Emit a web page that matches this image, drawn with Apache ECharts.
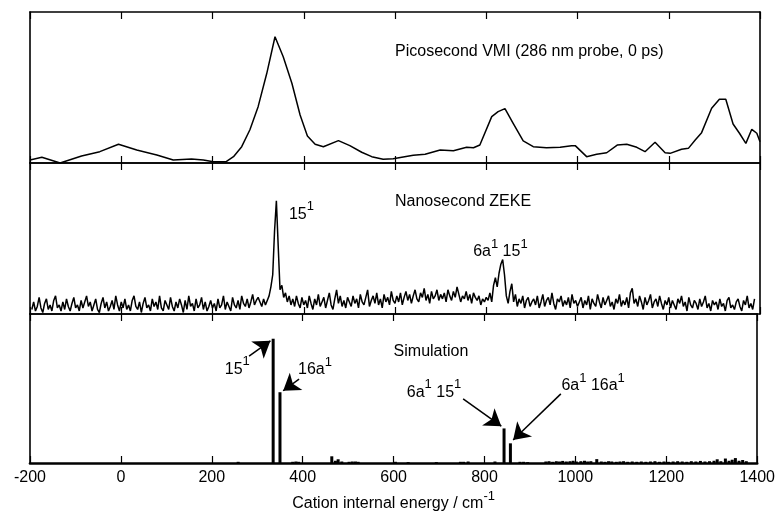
<!DOCTYPE html>
<html>
<head>
<meta charset="utf-8">
<script src="https://cdn.jsdelivr.net/npm/echarts/dist/echarts.min.js"></script>
<style>
  html, body { margin: 0; padding: 0; background: #fff; }
  #chart { width: 778px; height: 513px; }
</style>
</head>
<body>
<div id="chart"></div>
<script>
// Shared energy axis (cm^-1)
const energyMin = -200;
const energyMax = 1400;
const energyInterval = 200;

// Picosecond VMI photoelectron spectrum (relative intensity)
const vmiEnergy = [-200,-174,-134,-87,-47,-6,34,78,114,154,180,202,230,246,264,282,300,319,337,355,374,392,408,425,443,476,501,527,549,574,596,640,666,699,728,757,772,786,812,826,841,859,881,903,932,962,987,995,1020,1042,1064,1087,1108,1130,1148,1170,1192,1203,1228,1243,1258,1272,1294,1311,1325,1341,1355,1369,1382,1393,1400];
const vmiSignal = [0.02,0.038,0,0.046,0.075,0.124,0.086,0.053,0.02,0.026,0.02,0.009,0.009,0.042,0.108,0.22,0.373,0.594,0.836,0.704,0.528,0.318,0.179,0.124,0.108,0.148,0.115,0.071,0.042,0.025,0.028,0.051,0.058,0.086,0.081,0.104,0.101,0.119,0.307,0.34,0.36,0.263,0.146,0.108,0.101,0.104,0.115,0.115,0.042,0.058,0.068,0.119,0.124,0.104,0.075,0.137,0.068,0.064,0.091,0.097,0.152,0.201,0.362,0.422,0.422,0.258,0.197,0.13,0.223,0.197,0.141];

// Nanosecond ZEKE scan: sampled every 4 cm^-1 from -196 cm^-1, one row per 100 cm^-1
// (intensity in % of panel height)
const zekeStart = -196;
const zekeStep = 4;
const zekeSignal = [
  3,8,2,5,11,4,1,7,10,3,6,2,9,12,4,6,2,8,3,10,5,2,7,11,4,
  6,2,9,4,3,12,5,8,2,6,10,3,1,7,11,4,8,2,5,9,3,12,6,2,8,
  4,10,3,6,2,9,12,5,3,8,1,7,11,4,6,2,10,5,8,3,12,4,2,9,6,
  3,11,5,2,8,4,10,6,1,9,3,12,5,7,2,10,4,6,11,3,8,2,5,9,4,
  7,2,10,4,6,12,3,8,5,2,11,6,4,9,3,12,7,5,10,4,8,13,6,9,11,
  8,5,10,6,9,12,18,26,55,75,45,16,19,11,14,8,12,6,10,5,12,7,4,11,6,
  9,4,12,7,3,10,6,13,5,8,11,4,9,14,6,3,10,16,7,12,5,9,4,11,8,
  5,12,7,10,4,13,8,6,11,16,5,9,12,7,14,6,10,4,13,8,11,6,15,9,7,
  12,8,14,6,11,15,9,13,7,12,16,10,8,14,11,17,9,13,7,15,10,12,16,9,13,
  10,14,8,16,12,9,15,11,18,13,8,12,10,15,9,13,7,14,11,9,12,6,10,8,11,
  9,14,8,19,24,18,27,33,36,26,12,7,15,20,8,13,5,10,7,12,4,9,11,5,8,
  10,6,12,4,8,13,5,9,11,6,14,7,3,10,8,12,5,9,6,11,4,13,7,9,5,
  8,11,4,9,6,12,3,10,7,5,13,8,4,11,6,9,12,5,8,3,10,7,13,5,9,
  6,11,4,14,17,7,10,5,12,8,3,11,6,9,13,4,8,10,5,12,7,3,9,6,11,
  4,9,6,3,10,7,12,5,8,2,11,6,4,9,7,3,10,5,8,12,4,7,2,9,6,
  8,3,10,5,7,2,9,11,4,6,3,8,10,5,2,9,6,12,4,7,3,10
];

// Simulated stick spectrum
const simEnergy = [258,335,350,378,385,391,464,472,478,486,502,509,516,522,604,632,694,747,754,764,823,843,857,878,886,895,935,942,950,958,965,972,980,988,995,1002,1012,1020,1027,1034,1047,1057,1065,1073,1080,1090,1098,1106,1115,1125,1135,1145,1155,1165,1175,1185,1195,1205,1215,1225,1235,1245,1255,1265,1275,1285,1295,1305,1312,1320,1330,1338,1345,1352,1360,1368,1376];
const simIntensity = [0.008,0.834,0.475,0.008,0.01,0.008,0.045,0.015,0.025,0.01,0.008,0.01,0.01,0.008,0.008,0.006,0.006,0.008,0.008,0.01,0.01,0.232,0.132,0.008,0.008,0.006,0.01,0.012,0.008,0.012,0.01,0.014,0.01,0.012,0.015,0.01,0.012,0.015,0.01,0.012,0.026,0.01,0.008,0.012,0.01,0.008,0.01,0.012,0.008,0.01,0.008,0.01,0.008,0.01,0.012,0.008,0.01,0.008,0.01,0.012,0.01,0.008,0.012,0.01,0.014,0.01,0.012,0.015,0.025,0.012,0.03,0.015,0.022,0.033,0.015,0.02,0.012];

// Text annotations (data coordinates of each panel)
const vmiNotes = [
  { x: 600, y: 0.737, text: 'Picosecond VMI (286 nm probe, 0 ps)', anchor: 'left' }
];
const zekeNotes = [
  { x: 600, y: 0.742, text: 'Nanosecond ZEKE', anchor: 'left' },
  { x: 395, y: 0.661, text: '15{sup|1}', anchor: 'center' },
  { x: 831, y: 0.41, text: '6a{sup|1} 15{sup|1}', anchor: 'center' }
];
const simNotes = [
  { x: 600, y: 0.745, text: 'Simulation', anchor: 'left' },
  { x: 256, y: 0.63, text: '15{sup|1}', anchor: 'center' },
  { x: 427, y: 0.625, text: '16a{sup|1}', anchor: 'center' },
  { x: 689, y: 0.475, text: '6a{sup|1} 15{sup|1}', anchor: 'center' },
  { x: 1039, y: 0.519, text: '6a{sup|1} 16a{sup|1}', anchor: 'center' }
];
// Arrows: [fromEnergy, fromY, toEnergy, toY]
const simArrows = [
  [282, 0.717, 329, 0.82],
  [392, 0.563, 357, 0.485],
  [753, 0.43, 837, 0.247],
  [968, 0.464, 863, 0.154]
];

const FONT = 'Liberation Sans, Arial, Helvetica, sans-serif';
const INK = '#000';
const supStyle = { fontSize: 13, fontFamily: FONT, color: INK, padding: [0, 0, 15, 0] };

const zekeData = zekeSignal.map((v, i) => [zekeStart + i * zekeStep, v / 100]);
const vmiData = vmiEnergy.map((e, i) => [e, vmiSignal[i]]);
const simData = simEnergy.map((e, i) => [e, simIntensity[i]]);

function notePoints(notes) {
  return notes.map(n => ({
    coord: [n.x, n.y],
    symbol: 'circle',
    symbolSize: 0,
    label: {
      show: true,
      position: n.anchor === 'left' ? 'right' : 'inside',
      distance: 0,
      formatter: n.text,
      color: INK,
      fontSize: 16,
      fontFamily: FONT,
      rich: { sup: supStyle }
    }
  }));
}

const panels = [
  { top: 12 }, { top: 163 }, { top: 314 }
];
const panelHeight = 151;

const grid = panels.map(p => ({ left: 30, right: 18, top: p.top, height: panelHeight }));

const xAxis = [];
const yAxis = [];
panels.forEach((p, gi) => {
  const last = gi === panels.length - 1;
  const base = {
    type: 'value', gridIndex: gi, min: energyMin, max: energyMax, interval: energyInterval,
    splitLine: { show: false },
    axisTick: { show: true, inside: true, length: 7, lineStyle: { color: INK, width: 1.2 } }
  };
  xAxis.push(Object.assign({}, base, {
    position: 'bottom',
    axisLine: { show: true, onZero: false, lineStyle: { color: INK, width: last ? 2.6 : 1.6 } },
    axisLabel: last
      ? { show: true, color: INK, fontSize: 16, fontFamily: FONT, margin: 7, formatter: v => String(v) }
      : { show: false },
    name: last ? 'Cation internal energy / cm{sup|-1}' : '',
    nameLocation: 'middle',
    nameGap: 27,
    nameTextStyle: { color: INK, fontSize: 16, fontFamily: FONT, rich: { sup: supStyle } }
  }));
  xAxis.push(Object.assign({}, base, {
    position: 'top',
    axisLine: { show: true, onZero: false, lineStyle: { color: INK, width: 1.6 } },
    axisLabel: { show: false }
  }));
  ['left', 'right'].forEach(pos => {
    yAxis.push({
      type: 'value', gridIndex: gi, position: pos, min: 0, max: 1,
      axisLine: { show: true, onZero: false, lineStyle: { color: INK, width: 1.6 } },
      axisTick: { show: false }, axisLabel: { show: false }, splitLine: { show: false }
    });
  });
});

const series = [
  {
    name: 'Picosecond VMI', type: 'line', xAxisIndex: 0, yAxisIndex: 0,
    data: vmiData, showSymbol: false, smooth: false,
    lineStyle: { color: INK, width: 1.5 },
    markPoint: { silent: true, animation: false, data: notePoints(vmiNotes) }
  },
  {
    name: 'Nanosecond ZEKE', type: 'line', xAxisIndex: 2, yAxisIndex: 2,
    data: zekeData, showSymbol: false, smooth: false,
    lineStyle: { color: INK, width: 1.5 },
    markPoint: { silent: true, animation: false, data: notePoints(zekeNotes) }
  },
  {
    name: 'Simulation', type: 'bar', xAxisIndex: 4, yAxisIndex: 4,
    data: simData, barWidth: 3,
    itemStyle: { color: INK },
    markPoint: { silent: true, animation: false, data: notePoints(simNotes) },
    markLine: {
      silent: true, animation: false,
      symbol: ['none', 'arrow'], symbolSize: 16,
      label: { show: false },
      lineStyle: { color: INK, width: 1.5, type: 'solid' },
      data: simArrows.map(a => [{ coord: [a[0], a[1]] }, { coord: [a[2], a[3]] }])
    }
  }
];

const chart = echarts.init(document.getElementById('chart'), null, { renderer: 'canvas' });
chart.setOption({
  animation: false,
  backgroundColor: '#fff',
  grid, xAxis, yAxis, series
});
</script>
</body>
</html>
